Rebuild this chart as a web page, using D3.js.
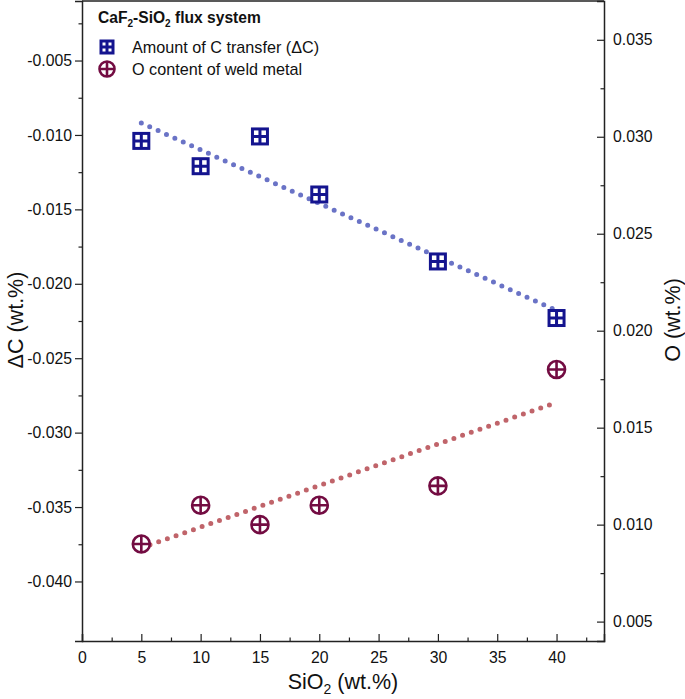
<!DOCTYPE html>
<html>
<head>
<meta charset="utf-8">
<script src="https://cdn.jsdelivr.net/npm/d3@7"></script>
<style>
  body { margin: 0; background: #fff; }
  svg { font-family: Arial, "Liberation Sans", sans-serif; }
</style>
</head>
<body>
<div id="chart"></div>
<script>
// SiO2 content of the flux (wt.%)
const sio2 = [5, 10, 15, 20, 30, 40];
// Amount of C transfer, delta C (wt.%)
const deltaC = [-0.0104, -0.0121, -0.0101, -0.0140, -0.0185, -0.0223];
// O content of weld metal (wt.%)
const oxygen = [0.0090, 0.0110, 0.0100, 0.0110, 0.0120, 0.0180];
// linear fit end points
const fitX = [5, 40];
const fitC = [-0.0092, -0.0218];
const fitO = [0.0088, 0.0163];

const xTicks = [0, 5, 10, 15, 20, 25, 30, 35, 40];
const cTicks = [-0.040, -0.035, -0.030, -0.025, -0.020, -0.015, -0.010, -0.005];
const oTicks = [0.005, 0.010, 0.015, 0.020, 0.025, 0.030, 0.035];

const width = 685, height = 699;
const margin = { top: 1, right: 81, bottom: 58, left: 82 };
const iw = width - margin.left - margin.right;
const ih = height - margin.top - margin.bottom;

const svg = d3.select('#chart').append('svg')
    .attr('width', width)
    .attr('height', height);

const g = svg.append('g')
    .attr('transform', `translate(${margin.left},${margin.top})`);

const x = d3.scaleLinear().domain([0, 44]).range([0, iw]);
const yC = d3.scaleLinear().domain([-0.044, -0.001]).range([ih, 0]);
const yO = d3.scaleLinear().domain([0.004, 0.037]).range([ih, 0]);

const blue = '#14148f', blueFit = '#6a73c6';
const red = '#730c42', redFit = '#c0646a';

// plain hyphen instead of unicode minus
const fmt3 = d => d3.format('.3f')(d).replace('\u2212', '-');

// minor ticks (halfway between majors)
const minor = (ticks, step) => ticks.map(t => t + step / 2);

// x axis - ticks inward
g.append('g')
    .attr('transform', `translate(0,${ih})`)
    .call(d3.axisBottom(x).tickValues(minor(xTicks, 5)).tickSize(-3.5).tickFormat(''))
    .call(a => a.select('.domain').remove());
g.append('g')
    .attr('transform', `translate(0,${ih})`)
    .call(d3.axisBottom(x).tickValues(xTicks).tickSize(-7).tickPadding(11).tickFormat(d3.format('d')));

// left axis - ticks outward
g.append('g')
    .call(d3.axisLeft(yC).tickValues(minor(cTicks, 0.005).filter(v => v < -0.001)).tickSize(3.5).tickFormat(''))
    .call(a => a.select('.domain').remove());
g.append('g')
    .call(d3.axisLeft(yC).tickValues(cTicks).tickSize(7).tickPadding(3).tickFormat(fmt3));

// right axis - ticks inward
g.append('g')
    .attr('transform', `translate(${iw},0)`)
    .call(d3.axisRight(yO).tickValues(minor(oTicks, 0.005).filter(v => v < 0.037)).tickSize(-3.5).tickFormat(''))
    .call(a => a.select('.domain').remove());
g.append('g')
    .attr('transform', `translate(${iw},0)`)
    .call(d3.axisRight(yO).tickValues(oTicks).tickSize(-7).tickPadding(9).tickFormat(fmt3));

// top frame line
g.append('line')
    .attr('x1', 0).attr('x2', iw)
    .attr('y1', 0).attr('y2', 0)
    .attr('stroke', '#222').attr('stroke-width', 1.5);

g.selectAll('.domain').attr('stroke', '#222').attr('stroke-width', 1.5);
g.selectAll('.tick line').attr('stroke', '#222').attr('stroke-width', 1.2);
g.selectAll('.tick text')
    .attr('font-size', 15.8)
    .attr('font-family', 'Arial, "Liberation Sans", sans-serif')
    .attr('fill', '#111');

// axis titles
svg.append('text')
    .attr('x', 343).attr('y', 689)
    .attr('text-anchor', 'middle')
    .attr('font-size', 21.5).attr('fill', '#111')
    .html('SiO<tspan dy="5" font-size="14">2</tspan><tspan dy="-5"> (wt.%)</tspan>');

svg.append('text')
    .attr('transform', 'translate(23,320) rotate(-90)')
    .attr('text-anchor', 'middle')
    .attr('font-size', 21.5).attr('fill', '#111')
    .text('ΔC (wt.%)');

svg.append('text')
    .attr('transform', 'translate(680,320) rotate(-90)')
    .attr('text-anchor', 'middle')
    .attr('font-size', 21.5).attr('fill', '#111')
    .text('O (wt.%)');

// fit lines (dotted)
const fitLine = (ys, scale) => d3.line()
    .x((d, i) => x(fitX[i]))
    .y((d, i) => scale(ys[i]))(ys);

g.append('path')
    .attr('d', fitLine(fitC, yC))
    .attr('fill', 'none')
    .attr('stroke', blueFit)
    .attr('stroke-width', 5)
    .attr('stroke-linecap', 'round')
    .attr('stroke-dasharray', '0 9.2');

g.append('path')
    .attr('d', fitLine(fitO, yO))
    .attr('fill', 'none')
    .attr('stroke', redFit)
    .attr('stroke-width', 5)
    .attr('stroke-linecap', 'round')
    .attr('stroke-dasharray', '0 9.2');

// markers
const drawSquare = (sel, s) => {
    sel.append('rect')
        .attr('x', -s / 2).attr('y', -s / 2)
        .attr('width', s).attr('height', s)
        .attr('fill', '#fff').attr('stroke', blue).attr('stroke-width', 3);
    sel.append('path')
        .attr('d', `M${-s / 2},0H${s / 2}M0,${-s / 2}V${s / 2}`)
        .attr('stroke', blue).attr('stroke-width', 3);
};
const drawCircle = (sel, r) => {
    sel.append('circle')
        .attr('r', r)
        .attr('fill', '#fff').attr('stroke', red).attr('stroke-width', 2.6);
    sel.append('path')
        .attr('d', `M${-r},0H${r}M0,${-r}V${r}`)
        .attr('stroke', red).attr('stroke-width', 2.6);
};

g.selectAll('.sq')
    .data(sio2)
    .enter()
    .append('g')
    .attr('transform', (d, i) => `translate(${x(d)},${yC(deltaC[i])})`)
    .each(function () { drawSquare(d3.select(this), 15); });

g.selectAll('.ci')
    .data(sio2)
    .enter()
    .append('g')
    .attr('transform', (d, i) => `translate(${x(d)},${yO(oxygen[i])})`)
    .each(function () { drawCircle(d3.select(this), 8.5); });

// legend
const lg = svg.append('g');
lg.append('text')
    .attr('x', 98).attr('y', 23)
    .attr('font-size', 15.6).attr('font-weight', 'bold').attr('fill', '#111')
    .html('CaF<tspan dy="4" font-size="10">2</tspan><tspan dy="-4">-SiO</tspan><tspan dy="4" font-size="10">2</tspan><tspan dy="-4"> flux system</tspan>');

lg.append('g').attr('transform', 'translate(107,47)')
    .each(function () { drawSquare(d3.select(this), 12); });
lg.append('g').attr('transform', 'translate(107,69)')
    .each(function () { drawCircle(d3.select(this), 7.5); });

lg.append('text')
    .attr('x', 132).attr('y', 52.5)
    .attr('font-size', 16.2).attr('fill', '#111')
    .text('Amount of C transfer (ΔC)');
lg.append('text')
    .attr('x', 132).attr('y', 75)
    .attr('font-size', 16.2).attr('fill', '#111')
    .text('O content of weld metal');
</script>
</body>
</html>
